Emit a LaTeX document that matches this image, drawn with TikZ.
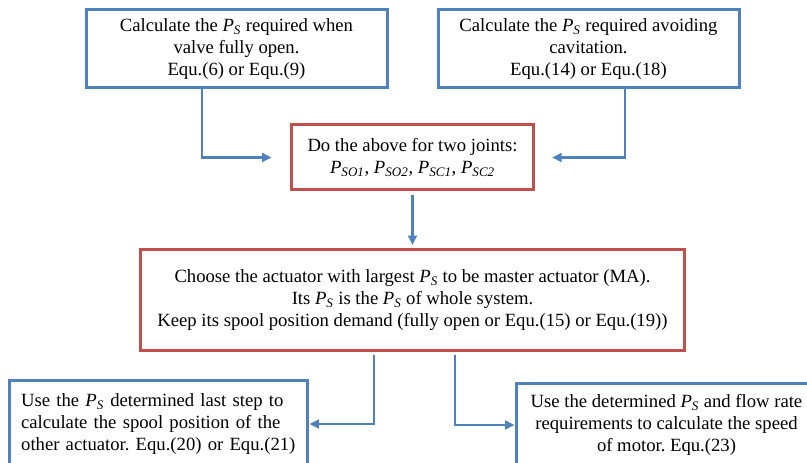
\documentclass[tikz,border=0pt]{standalone}
\usepackage{fontspec}
\setmainfont{Liberation Serif}
\usetikzlibrary{arrows.meta,positioning,calc}
\definecolor{boxblue}{HTML}{4F81BD}
\definecolor{boxred}{HTML}{C0504D}
\newcommand{\Ps}[1][S]{\textit{P}\textsubscript{\textit{#1}}}
\frenchspacing
\tikzset{
  >={Triangle[length=7pt,width=6.5pt]},
  line/.style    = {->, draw=boxblue, line width=2.1pt},
  bluebox/.style = {rectangle, draw=boxblue, line width=2.25pt, outer sep=0pt, align=center, fill=white},
  redbox/.style  = {rectangle, draw=boxred, line width=2.25pt, outer sep=0pt, align=center, fill=white}
}
\begin{document}
\begin{tikzpicture}[every node/.style={font=\fontsize{14pt}{16.5pt}\selectfont}]

\useasboundingbox (0,0) rectangle (605.25pt,-347.25pt);
\clip (0,0) rectangle (605.25pt,-347.25pt);
\fill[white] (0,0) rectangle (605.25pt,-347.25pt);

% Level 1
\node (ful) [bluebox, anchor=north west, minimum width=225.75pt, minimum height=58.5pt] at (64.5pt,-7.5pt) {Calculate the \Ps{} required when\\valve fully open.\\Equ.(6) or Equ.(9)};

\node (cav) [bluebox, right=38.25pt of ful, minimum width=225.75pt, minimum height=58.5pt] {Calculate the \Ps{} required avoiding\\cavitation.\\Equ.(14) or Equ.(18)};

% Level 2
\coordinate (mid) at ($(ful.south)!0.5!(cav.south)$);

\node (two) [redbox, below=27.75pt of mid, minimum width=181.5pt, minimum height=48.75pt] {Do the above for two joints:\\\Ps[SO1], \Ps[SO2], \Ps[SC1], \Ps[SC2]};

% Level 3
\node (ma) [redbox, below=45pt of two, minimum width=408pt, minimum height=75.75pt] {Choose the actuator with largest \Ps{} to be master actuator (MA).\\Its \Ps{} is the \Ps{} of whole system.\\Keep its spool position demand (fully open or Equ.(15) or Equ.(19))};

% Level 4 - branches
\node (spool) [bluebox, align=left, below left=21.75pt and 78.75pt of ma.south, text width=206pt, inner xsep=8.75pt, minimum height=66pt] {Use the \Ps{} determined last step to\\calculate the spool position of the\\other actuator. Equ.(20) or Equ.(21)};

\node (motor) [bluebox, below right=24pt and 78pt of ma.south, minimum width=225pt, minimum height=63pt] {Use the determined \Ps{} and flow rate\\requirements to calculate the speed\\of motor. Equ.(23)};

% Connections
\draw[line, shorten >=15pt] ([xshift=-25.9pt]ful.south) |- (two.west);
\draw[line, shorten >=14pt] ([xshift=27.4pt]cav.south) |- (two.east);
\draw[line, shorten <=3.75pt, shorten >=3.75pt] (two) -- (ma);
\draw[line, shorten <=3pt, shorten >=1.5pt] ([xshift=-28.9pt]ma.south) |- (spool.east);
\draw[line, shorten <=3pt, shorten >=1.5pt] ([xshift=31.9pt]ma.south) |- (motor.west);

\end{tikzpicture}
\end{document}
